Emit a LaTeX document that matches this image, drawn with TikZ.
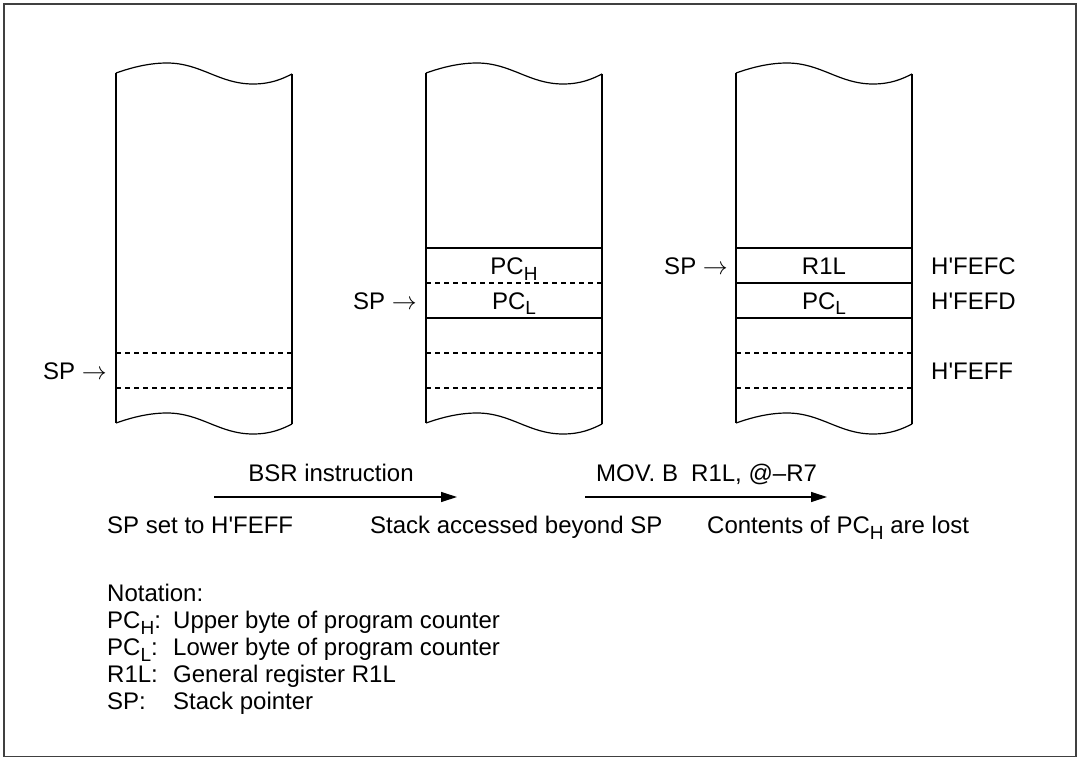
\documentclass[tikz,border=0pt]{standalone}
\usepackage{fontspec}
\setmainfont{Liberation Sans}
\usetikzlibrary{arrows.meta}
\newcommand{\lsub}[1]{\raisebox{-5.5pt}{\fontsize{19}{19}\selectfont #1}}
\newcommand{\hq}{H\textquotesingle}
\begin{document}
\begin{tikzpicture}[x=1pt,y=-1pt,
  txt/.style={font=\fontsize{24}{28}\selectfont, inner sep=0pt},
  colline/.style={line width=1.2pt},
  dsh/.style={line width=1.1pt, dash pattern=on 5pt off 4pt},
  arr/.style={line width=1.2pt, -{Triangle[length=16pt,width=10pt]}}]
\useasboundingbox (0,0) rectangle (1079,757);
\draw[line width=1.6pt, black!75] (4,4) rectangle (1076,757);

% columns
\foreach \x in {116,426,736}{
  \draw[colline] (\x,73) .. controls +(17,-6) and +(-17,0) .. ++(51,-10)
     .. controls +(34,0) and +(-34,0) .. ++(86,21)
     .. controls +(18,0) and +(-10,5) .. ++(39,-10);
  \draw[colline] (\x,423) .. controls +(17,-6) and +(-17,0) .. ++(51,-10)
     .. controls +(34,0) and +(-34,0) .. ++(86,21)
     .. controls +(18,0) and +(-10,5) .. ++(39,-10);
  \draw[colline] (\x,73) -- (\x,423);
  \draw[colline] ({\x+176},74) -- ({\x+176},424);
  \draw[dsh] (\x,353) -- ({\x+176},353);
  \draw[dsh] (\x,388) -- ({\x+176},388);
}
% column 2 rows
\draw[colline] (426,248) -- (602,248);
\draw[dsh] (426,283) -- (602,283);
\draw[colline] (426,318) -- (602,318);
% column 3 rows
\draw[colline] (736,248) -- (912,248);
\draw[colline] (736,283) -- (912,283);
\draw[colline] (736,318) -- (912,318);

% cell texts
\node[txt, anchor=base] (pch2) at (514,274.6) {PC\lsub{H}};
\node[txt, anchor=base] (pcl2) at (514,309.2) {PC\lsub{L}};
\node[txt, anchor=base] (r1l3) at (824,274.6) {R1L};
\node[txt, anchor=base] (pcl3) at (824,309.2) {PC\lsub{L}};

% SP pointers
\node[txt, anchor=base east] (sp1) at (107,379) {SP $\rightarrow$};
\node[txt, anchor=base east] (sp2) at (417,309.2) {SP $\rightarrow$};
\node[txt, anchor=base east] (sp3) at (728,274.6) {SP $\rightarrow$};

% addresses
\node[txt, anchor=base west] (afc) at (931,274.6) {\hq FEFC};
\node[txt, anchor=base west] (afd) at (931,309.2) {\hq FEFD};
\node[txt, anchor=base west] (aff) at (931,379) {\hq FEFF};

% transitions
\coordinate (a1s) at (214,497);
\coordinate (a1e) at (457,497);
\coordinate (a2s) at (585,497);
\coordinate (a2e) at (827,497);
\draw[arr] (a1s) -- (a1e);
\draw[arr] (a2s) -- (a2e);
\node[txt, anchor=base] (bsr) at (331,481.6) {BSR instruction};
\node[txt, anchor=base west] (mov) at (596,481.6) {MOV. B\hspace{0.55em}R1L, @–R7};

% captions
\node[txt, anchor=base west] (cap1) at (107,533.6) {SP set to \hq FEFF};
\node[txt, anchor=base west] (cap2) at (370,533.6) {Stack accessed beyond SP};
\node[txt, anchor=base west] (cap3) at (707,533.6) {Contents of PC\lsub{H} are lost};

% notation
\node[txt, anchor=base west] (nt) at (107,601.6) {Notation:};
\node[txt, anchor=base west] (n1a) at (107,628.6) {PC\lsub{H}:};
\node[txt, anchor=base west] (n1b) at (173,628.6) {Upper byte of program counter};
\node[txt, anchor=base west] (n2a) at (107,655.6) {PC\lsub{L}:};
\node[txt, anchor=base west] (n2b) at (173,655.6) {Lower byte of program counter};
\node[txt, anchor=base west] (n3a) at (107,682.6) {R1L:};
\node[txt, anchor=base west] (n3b) at (173,682.6) {General register R1L};
\node[txt, anchor=base west] (n4a) at (107,709.6) {SP:};
\node[txt, anchor=base west] (n4b) at (173,709.6) {Stack pointer};
\end{tikzpicture}
\end{document}
